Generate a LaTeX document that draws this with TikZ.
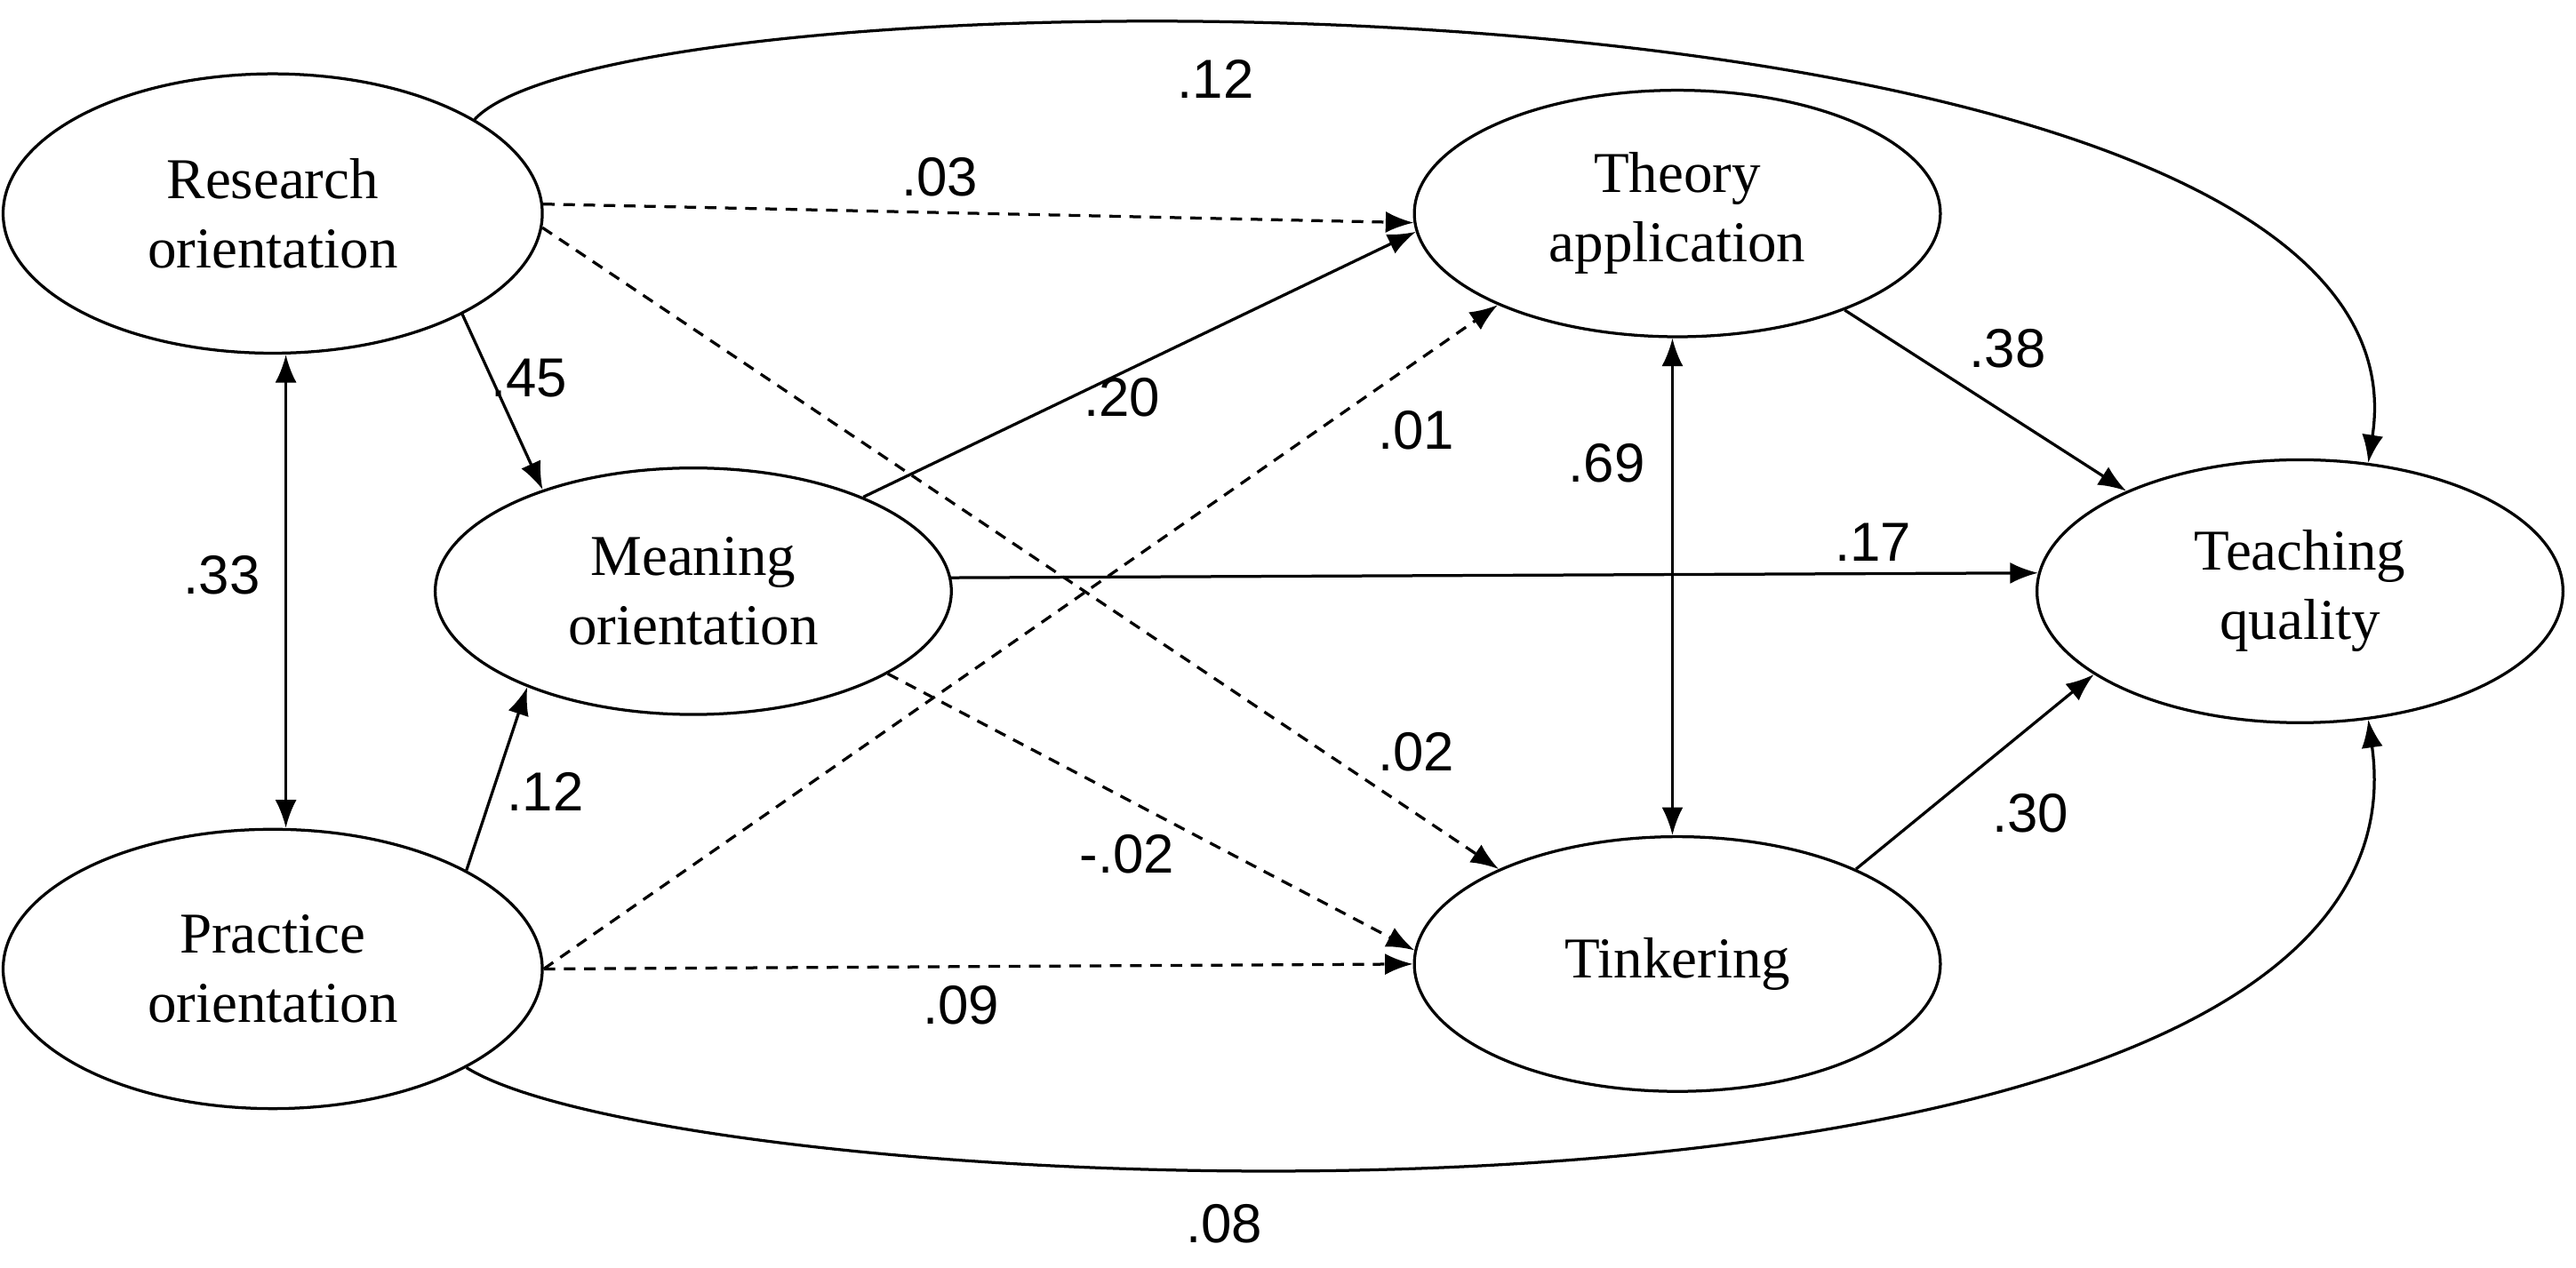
\documentclass[tikz,border=0pt]{standalone}
\usepackage{fontspec}
\setmainfont{Liberation Serif}
\newfontfamily\numfont{Liberation Sans}
\usetikzlibrary{shapes.geometric,arrows.meta}
\begin{document}
\begin{tikzpicture}[x=0.01cm,y=-0.01cm,
  lat/.style={ellipse,draw,line width=0.5pt,align=center,font=\fontsize{10}{12}\selectfont},
  ar/.style={-{Latex[length=1.7mm,width=1.3mm]},line width=0.5pt},
  dar/.style={ar,dashed,dash pattern=on 2pt off 1.5pt},
  lbl/.style={font=\numfont\fontsize{9.5}{11}\selectfont}]
\useasboundingbox (0,0) rectangle (1568,772);
\node[lat,minimum width=3.28cm,minimum height=1.7cm] (R) at (166,130) {Research\\orientation};
\node[lat,minimum width=3.28cm,minimum height=1.7cm] (P) at (166,590) {Practice\\orientation};
\node[lat,minimum width=3.14cm,minimum height=1.5cm] (M) at (422,360) {Meaning\\orientation};
\node[lat,minimum width=3.2cm,minimum height=1.5cm] (T) at (1021,130) {Theory\\application};
\node[lat,minimum width=3.2cm,minimum height=1.55cm] (K) at (1021,587) {Tinkering};
\node[lat,minimum width=3.2cm,minimum height=1.6cm] (Q) at (1400,360) {Teaching\\quality};

\draw[dar] (R.2) -- (T.182);
\draw[dar] (R.-3) -- (K.152);
\draw[ar] (R.-28) -- (M.146);
\draw[{Latex[length=1.7mm,width=1.3mm]}-{Latex[length=1.7mm,width=1.3mm]},line width=0.5pt] ([xshift=0.08cm]R.south) -- ([xshift=0.08cm]P.north);
\draw[ar] (P.27) -- (M.-150);
\draw[dar] (P.0) -- (T.-153);
\draw[dar] (P.0) -- (K.180);
\draw[ar] (M.29) -- (T.-176);
\draw[ar] (M.3) -- (Q.176);
\draw[dar] (M.-23) -- (K.177);
\draw[{Latex[length=1.7mm,width=1.3mm]}-{Latex[length=1.7mm,width=1.3mm]},line width=0.5pt] ([xshift=-0.03cm]T.south) -- ([xshift=-0.03cm]K.north);
\draw[ar] (T.-30) -- (Q.150);
\draw[ar] (K.28) -- (Q.-158);
\draw[ar] (R.25) .. controls (380,-25) and (1490,-30) .. (Q.62);
\draw[ar] (P.-27) .. controls (420,735) and (1490,785) .. (Q.-62);

\node[lbl] (l1) at (740,48) {.12};
\node[lbl] (l2) at (572,108) {.03};
\node[lbl] (l3) at (322,230) {.45};
\node[lbl] (l4) at (683,242) {.20};
\node[lbl] (l5) at (862,262) {.01};
\node[lbl] (l6) at (135,350) {.33};
\node[lbl] (l7) at (1140,330) {.17};
\node[lbl] (l8) at (978,282) {.69};
\node[lbl] (l9) at (1222,212) {.38};
\node[lbl] (l10) at (332,482) {.12};
\node[lbl] (l11) at (862,458) {.02};
\node[lbl] (l12) at (686,520) {-.02};
\node[lbl] (l13) at (1236,495) {.30};
\node[lbl] (l14) at (585,612) {.09};
\node[lbl] (l15) at (745,745) {.08};
\end{tikzpicture}
\end{document}
